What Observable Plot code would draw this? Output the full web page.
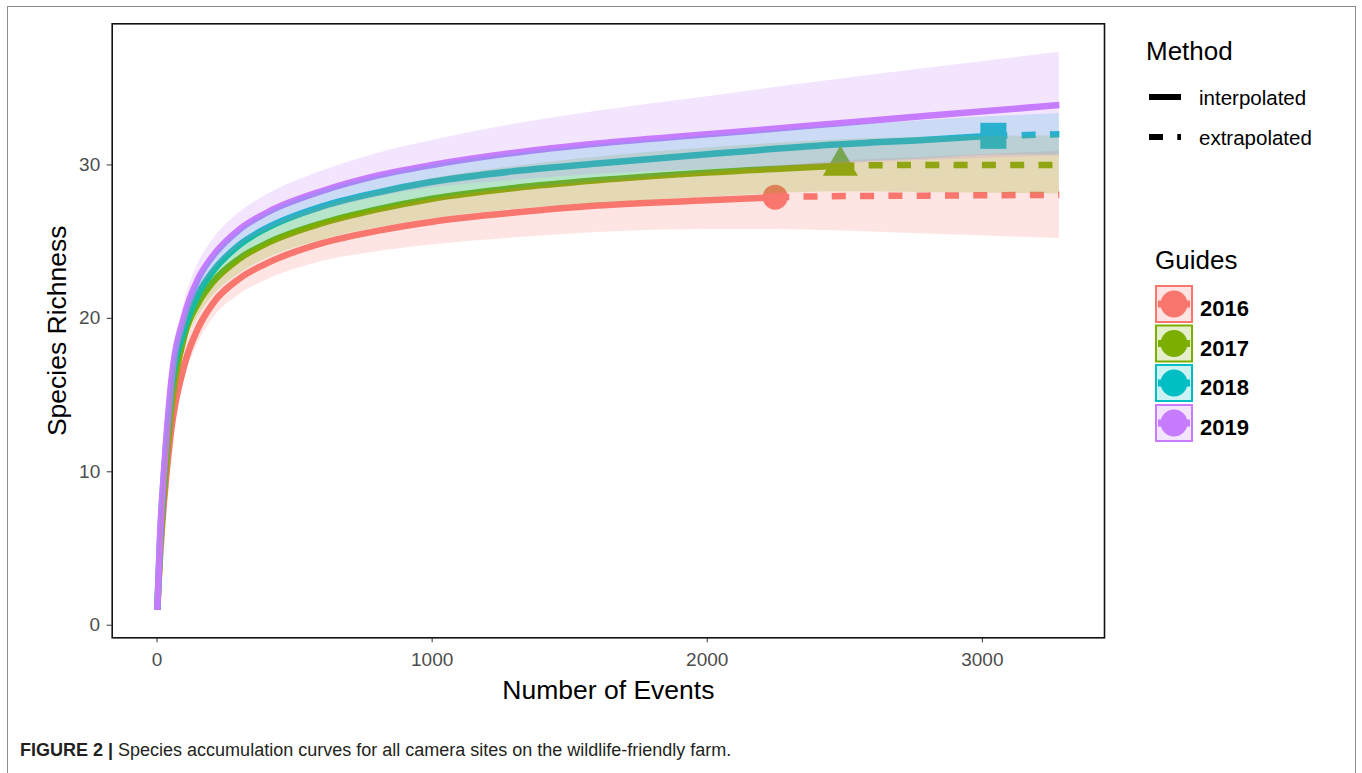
<!DOCTYPE html>
<html>
<head>
<meta charset="utf-8">
<script src="https://cdn.jsdelivr.net/npm/d3@7"></script>
<script src="https://cdn.jsdelivr.net/npm/@observablehq/plot@0.6"></script>
<style>
  html, body { margin: 0; padding: 0; background: #fff; }
  body { width: 1362px; height: 773px; position: relative; overflow: hidden; font-family: "Liberation Sans", Arial, sans-serif; }
  #frame { position: absolute; left: 7px; top: 6px; width: 1347px; height: 800px; border: 1.5px solid #8c8c8c; border-bottom: none; }
  #chart { position: absolute; left: 0; top: 0; }
  #legend { position: absolute; left: 0; top: 0; }
  #caption { position: absolute; left: 20px; top: 740px; font-size: 18px; color: #231f20; white-space: nowrap; }
  #caption b { font-weight: bold; }
</style>
</head>
<body>
<div id="frame"></div>
<div id="chart"></div>
<svg id="legend" width="1362" height="773"></svg>
<div id="caption"><b>FIGURE 2 |</b> Species accumulation curves for all camera sites on the wildlife-friendly farm.</div>
<script>
// ---------------- data ----------------
const years = ["2016", "2017", "2018", "2019"];
const methods = ["interpolated", "extrapolated"];
const xTicks = [0, 1000, 2000, 3000];
const yTicks = [0, 10, 20, 30];

// reference sample sizes (observed points) and observed richness
const refEvents = [2247, 2484, 3040, 3280];
const refRichness = [27.9, 29.95, 31.9, 33.9];

// 2016
const x2016 = [1, 10, 25, 50, 100, 150, 200, 300, 400, 600, 800, 1000, 1300, 1600, 2000, 2247, 2400, 2800, 3280];
const y2016 = [1, 4.2, 8.0, 12.5, 17.0, 19.4, 20.9, 22.6, 23.6, 24.9, 25.7, 26.3, 26.9, 27.35, 27.7, 27.9, 27.95, 28.0, 28.05];
const lo2016 = [1, 3.8, 7.3, 11.6, 16.0, 18.4, 19.9, 21.55, 22.5, 23.7, 24.35, 24.8, 25.25, 25.6, 25.8, 25.8, 25.75, 25.5, 25.2];
const hi2016 = [1, 4.6, 8.7, 13.4, 18.0, 20.4, 21.9, 23.65, 24.7, 26.1, 27.05, 27.8, 28.55, 29.1, 29.6, 29.9, 30.15, 30.5, 30.9];
// 2017
const x2017 = [1, 10, 25, 50, 100, 150, 200, 300, 400, 600, 800, 1000, 1300, 1600, 2000, 2484, 2800, 3280];
const y2017 = [1, 4.6, 8.8, 13.8, 18.9, 21.0, 22.3, 23.9, 24.9, 26.2, 27.1, 27.8, 28.5, 29.0, 29.5, 29.95, 30.0, 30.0];
const lo2017 = [1, 4.3, 8.3, 13.1, 18.1, 20.1, 21.4, 22.9, 23.9, 25.1, 25.9, 26.5, 27.1, 27.5, 27.9, 28.25, 28.2, 28.1];
const hi2017 = [1, 4.9, 9.3, 14.5, 19.7, 21.9, 23.2, 24.9, 25.9, 27.3, 28.3, 29.1, 29.9, 30.5, 31.1, 31.65, 31.8, 31.9];
// 2018
const x2018 = [1, 10, 25, 50, 100, 150, 200, 300, 400, 600, 800, 1000, 1300, 1600, 2000, 2400, 2800, 3040, 3280];
const y2018 = [1, 5.2, 9.8, 15.0, 19.3, 21.6, 23.0, 24.8, 25.9, 27.3, 28.2, 28.9, 29.6, 30.1, 30.7, 31.25, 31.65, 31.9, 32.0];
const lo2018 = [1, 4.9, 9.3, 14.3, 18.5, 20.7, 22.1, 23.9, 24.95, 26.3, 27.15, 27.8, 28.45, 28.9, 29.5, 30.05, 30.4, 30.65, 30.65];
const hi2018 = [1, 5.5, 10.3, 15.7, 20.1, 22.5, 23.9, 25.7, 26.85, 28.3, 29.25, 30.0, 30.75, 31.3, 31.9, 32.45, 32.9, 33.15, 33.35];
// 2019
const x2019 = [1, 10, 25, 50, 100, 150, 200, 300, 400, 600, 800, 1000, 1300, 1600, 2000, 2400, 2800, 3280];
const y2019 = [1, 5.5, 10.0, 15.6, 20.2, 22.6, 24.0, 25.8, 26.9, 28.3, 29.3, 30.0, 30.8, 31.4, 32.0, 32.6, 33.2, 33.9];
const lo2019 = [1, 5.2, 9.5, 14.9, 19.3, 21.6, 22.95, 24.7, 25.75, 27.0, 27.9, 28.5, 29.0, 29.4, 29.7, 30.0, 30.3, 30.6];
const hi2019 = [1, 5.8, 10.5, 16.3, 21.1, 23.6, 25.05, 26.9, 28.05, 29.6, 30.75, 31.6, 32.65, 33.5, 34.45, 35.4, 36.3, 37.35];

// ---------------- styles ----------------
const colors = ["#F8766D", "#7CAE00", "#00BFC4", "#C77CFF"];
const shapeOf = {"2016": "circle", "2017": "triangle", "2018": "square"};
const sizeOf = {"circle": 12.5, "triangle": 13, "square": 14.7};
const FONT = "Liberation Sans, Arial, sans-serif";

// ---------------- tables built from the arrays ----------------
const series = [
  [x2016, y2016, lo2016, hi2016],
  [x2017, y2017, lo2017, hi2017],
  [x2018, y2018, lo2018, hi2018],
  [x2019, y2019, lo2019, hi2019]
];
const rows = [];
series.forEach(([xs, ys, los, his], i) => {
  xs.forEach((x, j) => rows.push({year: years[i], x, y: ys[j], lo: los[j], hi: his[j], ref: refEvents[i]}));
});
const interpRows = rows.filter(d => d.x <= d.ref);
const extrapRows = rows.filter(d => d.x >= d.ref);
const refRows = years.map((year, i) => ({year, x: refEvents[i], y: refRichness[i]}))
  .filter(d => shapeOf[d.year]);

const dotMarks = ["circle", "triangle", "square"].map(s =>
  Plot.dot(refRows.filter(d => shapeOf[d.year] === s), {
    x: "x", y: "y", fill: "year", symbol: s, r: sizeOf[s], stroke: "none"
  })
);

const chart = Plot.plot({
  width: 1362,
  height: 720,
  marginTop: 23.3,
  marginLeft: 111.7,
  marginRight: 258,
  marginBottom: 82.7,
  style: {fontFamily: FONT, background: "transparent", overflow: "visible"},
  x: {domain: [-163, 3444]},
  y: {domain: [-0.82, 39.2]},
  color: {domain: years, range: colors},
  marks: [
    Plot.line(interpRows, {x: "x", y: "y", z: "year", stroke: "year", strokeWidth: 6.5, curve: "monotone-x", strokeLinecap: "butt"}),
    Plot.line(extrapRows, {x: "x", y: "y", z: "year", stroke: "year", strokeWidth: 6.5, curve: "monotone-x", strokeDasharray: "14,14.3", strokeLinecap: "butt"}),
    ...dotMarks,
    Plot.areaY(rows, {x: "x", y1: "lo", y2: "hi", z: "year", fill: "year", fillOpacity: 0.2, curve: "monotone-x"}),
    Plot.axisX({ticks: xTicks, tickSize: 5, tickPadding: 10, fontSize: 19, label: null, stroke: "#333", fill: "#4d4d4d", tickFormat: d => String(d)}),
    Plot.axisY({ticks: yTicks, tickSize: 5, tickPadding: 7, fontSize: 19, label: null, stroke: "#333", fill: "#4d4d4d", tickFormat: d => String(d)}),
    Plot.text(["Number of Events"], {frameAnchor: "bottom", dy: 61, fontSize: 26.5, fill: "#000", textAnchor: "middle", text: d => d}),
    Plot.text(["Species Richness"], {frameAnchor: "left", dx: -55, rotate: -90, fontSize: 26.5, fill: "#000", textAnchor: "middle", text: d => d}),
    Plot.frame({stroke: "#111", strokeWidth: 1.6})
  ]
});
document.getElementById("chart").appendChild(chart);

// ---------------- legends ----------------
const svg = d3.select("#legend").style("font-family", FONT);
// Method legend
svg.append("text").attr("x", 1146).attr("y", 60).attr("font-size", 26).attr("fill", "#000").text("Method");
const methodKeyY = [97, 137];
methods.forEach((m, i) => {
  svg.append("line").attr("x1", 1149).attr("x2", 1181).attr("y1", methodKeyY[i]).attr("y2", methodKeyY[i])
    .attr("stroke", "#000").attr("stroke-width", 6)
    .attr("stroke-dasharray", i === 1 ? "14,14.3" : null);
  svg.append("text").attr("x", 1199).attr("y", methodKeyY[i] + 7.5).attr("font-size", 20.5).attr("fill", "#000").text(m);
});
// Guides legend
svg.append("text").attr("x", 1155).attr("y", 269).attr("font-size", 26).attr("fill", "#000").text("Guides");
const boxTop = [286, 325.5, 365, 405];
years.forEach((yr, i) => {
  const t = boxTop[i], c = colors[i];
  svg.append("rect").attr("x", 1156).attr("y", t).attr("width", 36).attr("height", 36)
    .attr("fill", c).attr("fill-opacity", 0.2).attr("stroke", c).attr("stroke-width", 2);
  svg.append("line").attr("x1", 1158).attr("x2", 1190).attr("y1", t + 18).attr("y2", t + 18)
    .attr("stroke", c).attr("stroke-width", 7);
  svg.append("circle").attr("cx", 1174).attr("cy", t + 18).attr("r", 13.5).attr("fill", c);
  svg.append("text").attr("x", 1200).attr("y", t + 30).attr("font-size", 22).attr("font-weight", "bold").attr("fill", "#000").text(yr);
});
</script>
</body>
</html>
